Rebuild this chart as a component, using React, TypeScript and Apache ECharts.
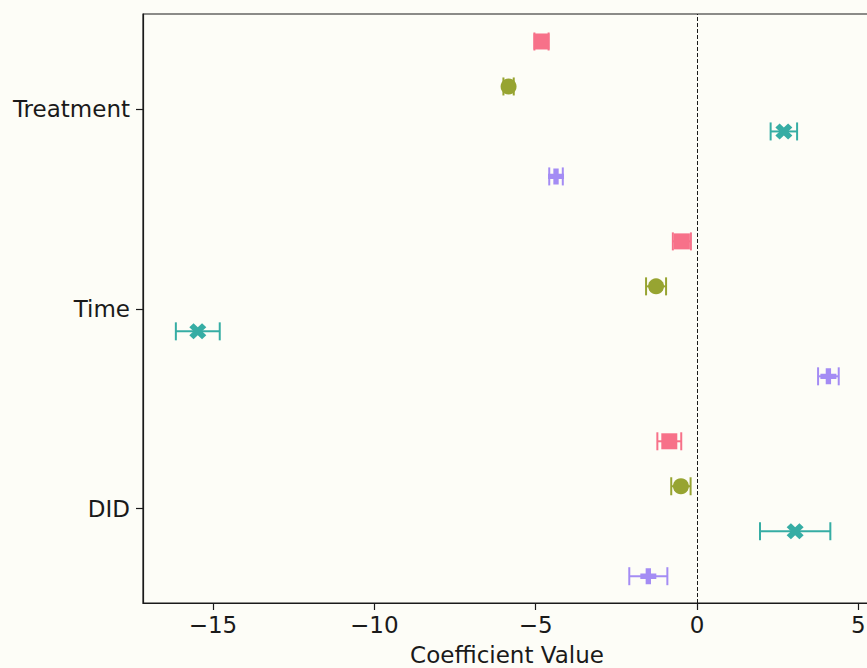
import React, { useEffect, useRef } from "react";
import * as echarts from "echarts";

// Categories on the y axis (bottom to top)
const categories = ["DID", "Time", "Treatment"];
const categoryPos = [0, 1, 2];
const xTicks = [-15, -10, -5, 0, 5];

// Four estimates per category
const seriesNames = ["Model 1", "Model 2", "Model 3", "Model 4"];
const coefPink = [-0.86, -0.47, -4.82];
const errPink = [0.37, 0.28, 0.22];
const coefOlive = [-0.5, -1.27, -5.84];
const errOlive = [0.3, 0.31, 0.16];
const coefTeal = [3.04, -15.47, 2.69];
const errTeal = [1.09, 0.68, 0.41];
const coefPurple = [-1.51, 4.07, -4.37];
const errPurple = [0.59, 0.32, 0.21];
const dodgeOffsets = [0.3375, 0.1125, -0.1125, -0.3375];

const colors = ["#f77189", "#97a431", "#36ada4", "#a48cf4"];
const plusPath = "path://M2,0H4V2H6V4H4V6H2V4H0V2H2Z";
const xPath =
  "path://M4.243,0L5.657,1.414L4.243,2.828L5.657,4.243L4.243,5.657L2.828,4.243L1.414,5.657L0,4.243L1.414,2.828L0,1.414L1.414,0L2.828,1.414Z";
const symbols = ["rect", "circle", xPath, plusPath];
const symbolSizes = [[16, 16], 16, [17, 16], 16];

const coefs = [coefPink, coefOlive, coefTeal, coefPurple];
const errs = [errPink, errOlive, errTeal, errPurple];

const BG = "#fdfdf7";
const INK = "#1a1a1a";
const FONT = "DejaVu Sans";

export default function App() {
  const ref = useRef<HTMLDivElement>(null);
  useEffect(() => {
    if (!ref.current) return;
    const chart = echarts.init(ref.current, null, { renderer: "svg" });
    const series: any[] = [];
    coefs.forEach((c, si) => {
      const data = c.map((v, i) => [v, categoryPos[i] + dodgeOffsets[si], errs[si][i]]);
      const color = colors[si];
      series.push({
        type: "custom",
        name: seriesNames[si],
        z: 2,
        encode: { x: 0, y: 1 },
        data,
        renderItem: (params: any, api: any) => {
          const x = api.value(0);
          const y = api.value(1);
          const e = api.value(2);
          const p1 = api.coord([x - e, y]);
          const p2 = api.coord([x + e, y]);
          const h = 9;
          const st = { stroke: color, lineWidth: 2 };
          return {
            type: "group",
            children: [
              { type: "line", shape: { x1: p1[0], y1: p1[1], x2: p2[0], y2: p2[1] }, style: st },
              { type: "line", shape: { x1: p1[0], y1: p1[1] - h, x2: p1[0], y2: p1[1] + h }, style: st },
              { type: "line", shape: { x1: p2[0], y1: p2[1] - h, x2: p2[0], y2: p2[1] + h }, style: st },
            ],
          };
        },
      });
      series.push({
        type: "scatter",
        name: seriesNames[si],
        z: 3,
        symbol: symbols[si],
        symbolSize: symbolSizes[si],
        itemStyle: { color, opacity: 1 },
        data: data.map((d) => [d[0], d[1]]),
        markLine:
          si === 0
            ? {
                silent: true,
                symbol: "none",
                label: { show: false },
                lineStyle: { type: [4, 2], color: INK, width: 1 },
                data: [{ xAxis: 0 }],
              }
            : undefined,
      });
    });

    chart.setOption({
      animation: false,
      backgroundColor: BG,
      grid: {
        left: 143,
        right: 4,
        top: 14,
        bottom: 65,
        outerBoundsMode: "none",
        show: true,
        borderColor: INK,
        borderWidth: 1.2,
        backgroundColor: "transparent",
      },
      xAxis: {
        type: "value",
        min: -17.168,
        max: 5.39,
        name: "Coefficient Value",
        nameLocation: "middle",
        nameGap: 40,
        nameTextStyle: { fontSize: 23, color: INK, fontFamily: FONT },
        axisLine: { show: true, onZero: false, lineStyle: { color: INK, width: 1.2 } },
        axisTick: { show: true, customValues: xTicks, length: 7, lineStyle: { color: INK, width: 1.2 } },
        axisLabel: {
          customValues: xTicks,
          fontSize: 23,
          color: INK,
          fontFamily: FONT,
          margin: 10,
          formatter: (v: number) => (v < 0 ? "\u2212" + Math.abs(v) : String(v)),
        },
        splitLine: { show: false },
      },
      yAxis: {
        type: "value",
        min: -0.4715,
        max: 2.475,
        axisLine: { show: true, onZero: false, lineStyle: { color: INK, width: 1.2 } },
        axisTick: { show: true, customValues: categoryPos, length: 7, lineStyle: { color: INK, width: 1.2 } },
        axisLabel: {
          customValues: categoryPos,
          fontSize: 23,
          color: INK,
          fontFamily: FONT,
          margin: 13,
          formatter: (v: number) => categories[Math.round(v)],
        },
        splitLine: { show: false },
      },
      series,
    });
    return () => chart.dispose();
  }, []);
  return (
    <div
      ref={ref}
      style={{ position: "fixed", left: 0, top: 0, width: 875, height: 668, background: BG }}
    />
  );
}
